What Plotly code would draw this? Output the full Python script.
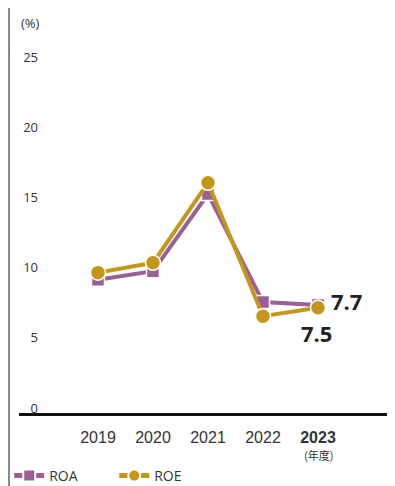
import plotly.graph_objects as go

years = ["2019", "2020", "2021", "2022", "2023"]
year_labels = ["2019", "2020", "2021", "2022", "<b>2023</b>"]
year_unit = "(年度)"
roa = [9.5, 10.1, 15.6, 7.9, 7.7]
roe = [10.0, 10.7, 16.4, 6.9, 7.5]
y_ticks = [0, 5, 10, 15, 20, 25]

ROA_C = "#9B5F97"
ROE_C = "#C3961C"
xi = list(range(len(years)))

W, H = 387, 478
L, T, B = 11, 12, 73
PH = H - T - B
PW = W - L

fig = go.Figure()
fig.add_trace(go.Scatter(
    x=xi, y=roa, name="ROA", mode="lines+markers",
    line=dict(color=ROA_C, width=4),
    marker=dict(symbol="square", size=13, color=ROA_C, line=dict(color="white", width=1.5)),
    cliponaxis=False,
))
fig.add_trace(go.Scatter(
    x=xi, y=roe, name="ROE", mode="lines+markers",
    line=dict(color=ROE_C, width=4),
    marker=dict(symbol="circle", size=15, color=ROE_C, line=dict(color="white", width=1.5)),
    cliponaxis=False,
))

label_font = dict(family="Open Sans", size=22, color="#222222", weight="bold")
fig.add_annotation(x=xi[-1], y=roa[-1], text=f"{roa[-1]:.1f}", showarrow=False,
                   xanchor="left", yanchor="middle", xshift=11, yshift=4, font=label_font)
fig.add_annotation(x=xi[-1], y=roe[-1], text=f"{roe[-1]:.1f}", showarrow=False,
                   xanchor="center", yanchor="middle", xshift=-2, yshift=-25, font=label_font)

fig.update_layout(
    width=W, height=H,
    margin=dict(l=L, r=0, t=T, b=B, autoexpand=False),
    paper_bgcolor="white", plot_bgcolor="white",
    showlegend=True,
    legend=dict(orientation="h", x=-0.026, xanchor="left", y=(405 - 468) / PH, yanchor="middle",
                entrywidth=60, entrywidthmode="pixels",
                font=dict(family="Open Sans", size=14, color="#333333"),
                itemsizing="constant", bgcolor="rgba(0,0,0,0)"),
    xaxis=dict(
        range=[-1.436, 5.4], tickmode="array", tickvals=xi, ticktext=year_labels,
        showline=True, linecolor="#111111", linewidth=3, showgrid=False, zeroline=False,
        ticks="", ticklabelstandoff=8,
        tickfont=dict(family="Liberation Sans", size=16, color="#333333"),
    ),
    yaxis=dict(
        range=[0, 28.0], tickmode="array", tickvals=y_ticks,
        showgrid=False, zeroline=False, showline=False, ticks="",
        anchor="free", position=(40 - 19) / PW,
        ticklabelshift=-5, ticklabelstandoff=2,
        tickfont=dict(family="Open Sans", size=13, color="#333333"),
    ),
    font=dict(family="Open Sans", color="#333333"),
)

fig.add_annotation(text=year_unit, xref="x", yref="paper", x=xi[-1], y=(405 - 447) / PH,
                   xanchor="center", yanchor="middle", showarrow=False,
                   font=dict(family="Noto Sans CJK JP", size=11, color="#333333"))
fig.add_annotation(text="(%)", xref="paper", yref="paper", x=(11 - L) / PW, y=(405 - 15) / PH,
                   xanchor="left", yanchor="middle", showarrow=False,
                   font=dict(family="Open Sans", size=13, color="#333333"))
fig.add_shape(type="line", xref="paper", yref="paper",
              x0=(1 - L) / PW, x1=(1 - L) / PW, y0=(405 - 490) / PH, y1=(405 + 12) / PH,
              line=dict(color="#8a8a8a", width=2), layer="above")

fig.write_html("out.html")
